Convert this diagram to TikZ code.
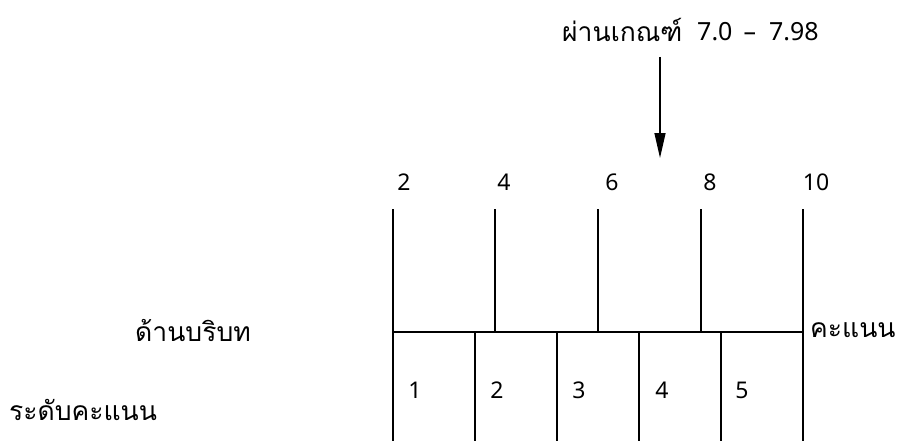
\documentclass[tikz,border=0pt]{standalone}
\usepackage{fontspec}
\setmainfont[Script=Thai]{Loma}
\newfontfamily\numfont{Noto Sans}
\usetikzlibrary{arrows.meta}
\begin{document}
\begin{tikzpicture}[x=1pt,y=-1pt,
  ln/.style={line width=1.6pt},
  lbl/.style={font=\fontsize{26.5}{30}\selectfont, inner sep=0pt},
  num/.style={font=\fontsize{23}{28}\selectfont\numfont, inner sep=0pt}]
\useasboundingbox (0,0) rectangle (904,441);
\foreach \n/\x in {a/393,b/495,c/598,d/701,e/803}{
  \coordinate (t\n) at (\x,209);
  \coordinate (m\n) at (\x,332);
}
\foreach \n/\x in {p/393,q/475,r/557,s/639,u/721,v/803}{
  \coordinate (h\n) at (\x,332);
  \coordinate (b\n) at (\x,441);
}
\draw[ln] (hp) -- (hv);
\foreach \n in {a,b,c,d,e} \draw[ln] (t\n) -- (m\n);
\foreach \n in {p,q,r,s,u,v} \draw[ln] (h\n) -- (b\n);
\node[num] (n2) at (404,182) {2};
\node[num] (n4) at (504,182) {4};
\node[num] (n6) at (612,182) {6};
\node[num] (n8) at (710,182) {8};
\node[num] (n10) at (816,182) {10};
\node[num] (l1) at (415,390) {1};
\node[num] (l2) at (497,390) {2};
\node[num] (l3) at (579,390) {3};
\node[num] (l4) at (662,390) {4};
\node[num] (l5) at (742,390) {5};
\node[lbl, anchor=west] (score) at (810,330) {คะแนน};
\node[lbl] (ctx) at (193,330) {ด้านบริบท};
\node[lbl, anchor=west] (lvl) at (9,410) {ระดับคะแนน};
\node[lbl, anchor=west] (pass) at (562,30) {ผ่านเกณฑ์};
\node[num, font=\fontsize{25}{30}\selectfont\numfont, anchor=west] (passval) at (697,32) {7.0\hspace{11pt}–\hspace{13pt}7.98};
\coordinate (arrtop) at (660,57);
\coordinate (arrtip) at (660,158);
\draw[line width=1.4pt, -{Triangle[length=25pt,width=11pt]}] (arrtop) -- (arrtip);
\end{tikzpicture}
\end{document}
